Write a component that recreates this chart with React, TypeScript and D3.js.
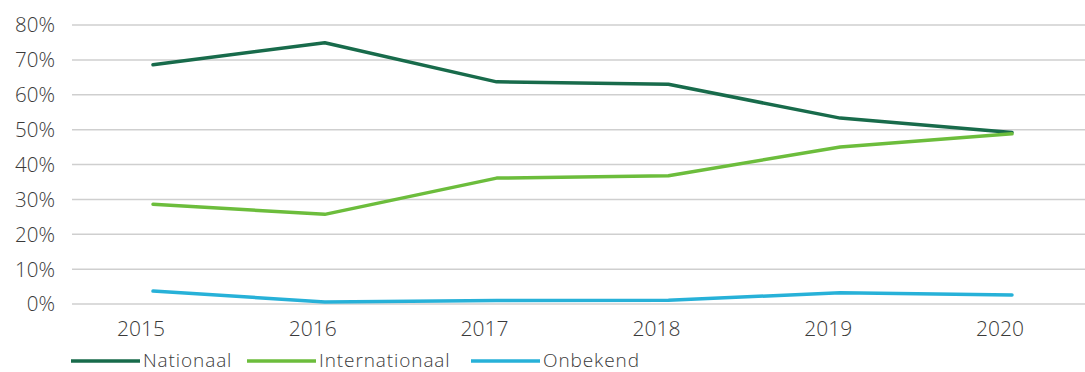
import React from "react";
import * as d3 from "d3";

const years = ["2015", "2016", "2017", "2018", "2019", "2020"];
const nationaal = [68.6, 74.9, 63.7, 63.0, 53.3, 49.2];
const internationaal = [28.6, 25.7, 36.1, 36.8, 45.0, 48.8];
const onbekend = [3.7, 0.6, 1.0, 1.1, 3.2, 2.6];
const yTicks = [0, 10, 20, 30, 40, 50, 60, 70, 80];

const series = [
  { name: "Nationaal", values: nationaal, color: "#186b4b" },
  { name: "Internationaal", values: internationaal, color: "#6cbd3c" },
  { name: "Onbekend", values: onbekend, color: "#27b1d8" },
];

const W = 1085;
const H = 372;
const FONT = "'Open Sans', Lato, sans-serif";
const TEXT = "#3a3a3a";

export default function App() {
  const x = d3.scalePoint<string>().domain(years).range([153, 1012]);
  const y = d3.scaleLinear().domain([0, 80]).range([304, 25]);
  const line = d3
    .line<number>()
    .x((_, i) => x(years[i]) as number)
    .y((d) => y(d))
    .curve(d3.curveLinear);

  const legendX = [71, 247, 471];

  return (
    <svg
      width={W}
      height={H}
      style={{ position: "absolute", left: 0, top: 0, background: "#fff" }}
      fontFamily={FONT}
      fontWeight={300}
    >
      {yTicks.map((t) => (
        <g key={t}>
          <line x1={72} x2={1085} y1={y(t)} y2={y(t)} stroke="#cfcfcf" strokeWidth={1.5} />
          <text x={55} y={y(t)} dy="0.36em" textAnchor="end" fontSize={20.5} fill={TEXT}>
            {t}%
          </text>
        </g>
      ))}
      {years.map((yr) => (
        <text
          key={yr}
          x={(x(yr) as number) - 12}
          y={336}
          textAnchor="middle"
          fontSize={21}
          fill={TEXT}
        >
          {yr}
        </text>
      ))}
      {series.map((s) => (
        <path
          key={s.name}
          d={line(s.values) || ""}
          fill="none"
          stroke={s.color}
          strokeWidth={3.5}
          strokeLinejoin="round"
          strokeLinecap="round"
        />
      ))}
      {series.map((s, i) => (
        <g key={s.name} transform={`translate(${legendX[i]},361)`}>
          <line x1={0} x2={69} y1={0} y2={0} stroke={s.color} strokeWidth={3.5} />
          <text x={72} y={0} dy="0.34em" fontSize={19} letterSpacing={0.9} fill={TEXT}>
            {s.name}
          </text>
        </g>
      ))}
    </svg>
  );
}
